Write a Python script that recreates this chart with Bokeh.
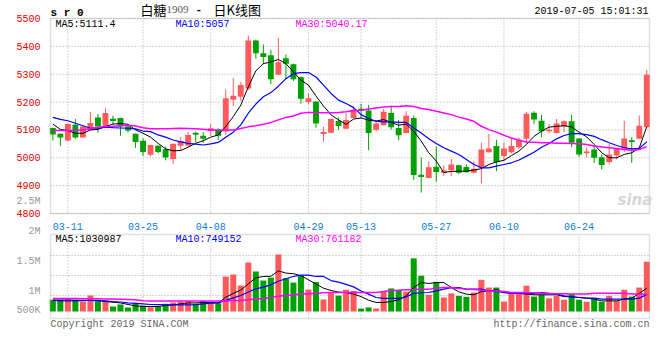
from bokeh.plotting import figure
from bokeh.models import Range1d, FixedTicker, Label, LinearAxis, BoxAnnotation
from bokeh.embed import file_html
from bokeh.resources import INLINE

# ---------------- data ----------------
tick_idx = [2, 12, 21, 34, 41, 51, 60, 70]
tick_labels = ["03-11", "03-25", "04-08", "04-29", "05-13", "05-27", "06-10", "06-24"]
price_ticks = [4800, 4900, 5000, 5100, 5200, 5300, 5400, 5500]
vol_axis_labels = ["2.5M", "2M", "1.5M", "1M", "500K"]

open_ = [5107, 5086, 5062, 5119, 5073, 5100, 5145, 5112, 5140, 5143,
         5112, 5086, 5061, 5011, 5043, 5031, 4996, 5043, 5043, 5090,
         5079, 5096, 5100, 5094, 5208, 5219, 5249, 5421, 5375, 5368,
         5298, 5357, 5336, 5289, 5200, 5202, 5085, 5090, 5132, 5104,
         5143, 5176, 5170, 5101, 5117, 5161, 5107, 5089, 5143, 4939,
         4927, 4968, 4946, 4955, 4973, 4967, 4946, 4964, 5020, 5042,
         5006, 5020, 5038, 5068, 5162, 5133, 5095, 5089, 5113, 5131,
         5069, 5016, 5030, 5002, 4985, 5008, 5032, 5063, 5068, 5110]
close_ = [5084, 5073, 5121, 5073, 5112, 5125, 5112, 5161, 5132, 5112,
          5098, 5057, 5021, 5046, 5021, 5001, 5050, 5060, 5082, 5083,
          5068, 5106, 5079, 5214, 5223, 5261, 5421, 5375, 5362, 5282,
          5343, 5338, 5282, 5212, 5214, 5123, 5093, 5139, 5114, 5136,
          5173, 5169, 5089, 5123, 5165, 5110, 5081, 5151, 4938, 4931,
          4966, 4949, 4954, 4976, 4946, 4948, 4961, 5030, 5033, 4985,
          5033, 5042, 5065, 5158, 5137, 5095, 5101, 5123, 5131, 5054,
          5012, 5023, 5000, 4974, 5012, 5033, 5069, 5057, 5115, 5298]
high_ = [5108, 5087, 5123, 5139, 5114, 5165, 5157, 5178, 5151, 5144,
         5121, 5087, 5070, 5047, 5045, 5040, 5051, 5075, 5093, 5094,
         5092, 5120, 5106, 5245, 5286, 5273, 5439, 5424, 5407, 5388,
         5430, 5371, 5338, 5292, 5232, 5203, 5111, 5140, 5145, 5160,
         5184, 5194, 5190, 5135, 5175, 5187, 5135, 5167, 5152, 5001,
         4987, 5039, 4973, 4996, 4975, 4976, 4988, 5054, 5086, 5065,
         5054, 5071, 5073, 5165, 5167, 5154, 5121, 5139, 5135, 5154,
         5070, 5037, 5046, 5011, 5050, 5034, 5133, 5074, 5152, 5315]
low_ = [5062, 5043, 5058, 5068, 5072, 5098, 5090, 5110, 5120, 5079,
        5090, 5036, 5007, 5005, 5017, 4991, 4979, 5026, 5041, 5055,
        5054, 5079, 5064, 5082, 5186, 5204, 5243, 5356, 5336, 5264,
        5297, 5284, 5276, 5194, 5193, 5108, 5058, 5088, 5100, 5103,
        5142, 5143, 5027, 5095, 5116, 5101, 5063, 5088, 4920, 4875,
        4926, 4914, 4935, 4935, 4941, 4947, 4944, 4908, 5019, 4952,
        4988, 5016, 5030, 5051, 5120, 5074, 5087, 5088, 5092, 5038,
        5004, 5001, 4982, 4958, 4976, 4994, 5021, 4982, 5067, 5109]

ma5 = [5121, 5102, 5098, 5088, 5088, 5100, 5102, 5112, 5121, 5123,
       5120, 5100, 5088, 5074, 5052, 5032, 5025, 5026, 5038, 5052,
       5061, 5074, 5082, 5112, 5148, 5189, 5255, 5312, 5338, 5344,
       5353, 5338, 5308, 5279, 5261, 5222, 5186, 5154, 5136, 5120,
       5139, 5143, 5135, 5132, 5137, 5127, 5117, 5121, 5095, 5060,
       5018, 4988, 4947, 4951, 4952, 4952, 4956, 4961, 4976, 4985,
       4991, 5008, 5024, 5048, 5077, 5095, 5110, 5113, 5115, 5111,
       5092, 5075, 5048, 5018, 5000, 5000, 5012, 5018, 5036, 5111.4]
ma10 = [5145, 5138, 5133, 5124, 5115, 5106, 5106, 5110, 5108, 5107,
        5106, 5104, 5096, 5094, 5082, 5074, 5064, 5057, 5052, 5049,
        5046, 5050, 5055, 5074, 5092, 5118, 5160, 5193, 5219, 5234,
        5257, 5284, 5302, 5306, 5306, 5290, 5261, 5231, 5207, 5195,
        5180, 5155, 5141, 5131, 5129, 5129, 5127, 5127, 5107, 5089,
        5068, 5051, 5036, 5024, 5012, 4994, 4976, 4964, 4964, 4970,
        4976, 4982, 4992, 5006, 5020, 5038, 5051, 5068, 5080, 5087,
        5087, 5083, 5077, 5065, 5054, 5044, 5036, 5032, 5034, 5057]
ma30 = [5098, 5098, 5098, 5099, 5100, 5105, 5110, 5112, 5113, 5115,
        5117, 5114, 5108, 5104, 5104, 5104, 5105, 5106, 5105, 5104,
        5102, 5100, 5100, 5100, 5100, 5105, 5111, 5115, 5120, 5127,
        5136, 5145, 5150, 5160, 5163, 5163, 5162, 5162, 5163, 5165,
        5170, 5171, 5175, 5179, 5182, 5184, 5184, 5187, 5184, 5177,
        5173, 5167, 5161, 5155, 5146, 5139, 5131, 5113, 5101, 5092,
        5081, 5071, 5063, 5057, 5056, 5054, 5054, 5052, 5052, 5051,
        5050, 5048, 5042, 5039, 5036, 5033, 5030, 5027, 5030, 5040.17]

volume = [520000, 520000, 600000, 520000, 440000, 710000, 520000, 460000, 220000, 310000,
          180000, 370000, 270000, 190000, 220000, 340000, 400000, 440000, 460000, 340000,
          470000, 400000, 370000, 1550000, 1640000, 1150000, 2170000, 1770000, 1370000, 1500000,
          2520000, 1470000, 1280000, 1580000, 970000, 1300000, 530000, 810000, 700000, 960000,
          910000, 130000, 180000, 130000, 910000, 1020000, 960000, 880000, 2350000, 1580000,
          740000, 1310000, 620000, 800000, 690000, 650000, 840000, 1400000, 1060000, 1060000,
          440000, 770000, 840000, 1140000, 660000, 740000, 580000, 690000, 520000, 770000,
          520000, 430000, 590000, 430000, 690000, 470000, 960000, 660000, 1060000, 2200000]
vol_ma5 = [490000, 470000, 470000, 470000, 480000, 490000, 490000, 440000, 410000, 380000,
           310000, 250000, 220000, 220000, 220000, 270000, 290000, 340000, 380000, 380000,
           400000, 400000, 380000, 630000, 800000, 950000, 1220000, 1490000, 1550000, 1560000,
           1800000, 1700000, 1670000, 1590000, 1400000, 1220000, 1030000, 930000, 860000, 840000,
           770000, 660000, 500000, 400000, 400000, 440000, 520000, 690000, 1060000, 1280000,
           1240000, 1280000, 1280000, 1060000, 870000, 770000, 740000, 880000, 910000, 960000,
           840000, 800000, 800000, 770000, 740000, 740000, 740000, 740000, 660000, 650000,
           620000, 590000, 550000, 470000, 470000, 470000, 550000, 590000, 800000, 1030987]
vol_ma10 = [500000, 500000, 500000, 490000, 490000, 490000, 480000, 470000, 440000, 420000,
            380000, 360000, 340000, 310000, 300000, 290000, 290000, 290000, 290000, 300000,
            340000, 370000, 380000, 490000, 600000, 710000, 860000, 1000000, 1080000, 1180000,
            1340000, 1450000, 1550000, 1610000, 1610000, 1550000, 1550000, 1370000, 1300000, 1200000,
            1090000, 910000, 770000, 620000, 580000, 580000, 580000, 650000, 800000, 830000,
            840000, 910000, 990000, 1060000, 1060000, 990000, 990000, 990000, 910000, 880000,
            840000, 800000, 800000, 800000, 800000, 840000, 800000, 770000, 690000, 650000,
            620000, 590000, 590000, 550000, 550000, 550000, 550000, 550000, 590000, 749152]
vol_ma30 = [580000, 580000, 570000, 570000, 560000, 560000, 560000, 550000, 550000, 540000,
            530000, 520000, 480000, 470000, 460000, 460000, 460000, 460000, 460000, 460000,
            460000, 460000, 460000, 460000, 490000, 490000, 520000, 550000, 580000, 620000,
            680000, 710000, 740000, 770000, 790000, 810000, 830000, 840000, 840000, 840000,
            840000, 840000, 840000, 840000, 880000, 930000, 940000, 960000, 970000, 990000,
            990000, 1030000, 1060000, 1060000, 1020000, 990000, 970000, 940000, 910000, 910000,
            880000, 840000, 840000, 840000, 830000, 810000, 800000, 790000, 780000, 770000,
            770000, 770000, 810000, 810000, 810000, 810000, 810000, 770000, 770000, 761182]

# ---------------- geometry / style ----------------
RED = "#ff5a5a"
GREEN = "#00a000"
GRID = "#aaaaaa"
BORDER = "#999999"
MONO = "Liberation Mono"

W, H = 660, 335                 # canvas (the frame fills it)
PL, PR = 50, 649                # panel left / right (px)
P_TOP, P_BOT = 18, 213          # price panel (px)
V_TOP, V_BOT = 234, 318         # volume panel (px)
XMIN, XMAX = -0.31, 79.36       # index range of the panels
P_MIN, P_MAX = 4800, 5500
V_ZERO_PX = 311                 # y pixel of zero volume
V_PX_PER_UNIT = 22.6 / 1e6


def x_at(px):
    return XMIN + (px - PL) * (XMAX - XMIN) / (PR - PL)


def p_at(py):
    return P_MAX - (py - P_TOP) * (P_MAX - P_MIN) / (P_BOT - P_TOP)


def v_at(py):
    return (V_ZERO_PX - py) / V_PX_PER_UNIT


def add_text(fig, px, py, text, color, size=10, font=MONO, style="normal", align="left"):
    fig.add_layout(Label(x=x_at(px), y=p_at(py), text=text, text_color=color,
                         text_font_size=f"{size}px", text_font=font,
                         text_font_style=style, text_align=align,
                         text_baseline="middle"))


n = len(close_)
idx = list(range(n))
colors = [RED if c >= o else GREEN for o, c in zip(open_, close_)]
body_top = [max(o, c) for o, c in zip(open_, close_)]
body_bot = [min(o, c) for o, c in zip(open_, close_)]

p = figure(width=W, height=H, x_range=Range1d(x_at(0), x_at(W)),
           y_range=Range1d(p_at(H), p_at(0)),
           x_axis_type=None, y_axis_type=None,
           output_backend="svg", toolbar_location=None, min_border=0)
p.extra_y_ranges = {"vol": Range1d(v_at(H), v_at(0))}
p.background_fill_color = "white"
p.border_fill_color = "white"
p.outline_line_color = None

# ---- grid lines (dotted) ----
gkw = dict(line_color=GRID, line_dash="1 2", line_width=1, level="underlay")
p.segment(x0=XMIN, y0=price_ticks, x1=XMAX, y1=price_ticks, **gkw)
p.segment(x0=tick_idx, y0=P_MIN, x1=tick_idx, y1=P_MAX, **gkw)
vol_grid = [v_at(255), v_at(275), v_at(295)]
p.segment(x0=XMIN, y0=vol_grid, x1=XMAX, y1=vol_grid, y_range_name="vol", **gkw)
p.segment(x0=tick_idx, y0=v_at(V_BOT), x1=tick_idx, y1=v_at(V_TOP), y_range_name="vol", **gkw)

# ---- candles ----
p.segment(x0=idx, y0=low_, x1=idx, y1=high_, line_color=colors, line_width=1)
p.vbar(x=idx, width=0.78, top=body_top, bottom=body_bot, fill_color=colors, line_color=None)
p.line(idx, ma5, line_color="black", line_width=1)
p.line(idx, ma10, line_color="#0000ff", line_width=1.2)
p.line(idx, ma30, line_color="#ff00ff", line_width=1.5)

# ---- volume ----
p.vbar(x=idx, width=0.8, top=volume, bottom=0, fill_color=colors, line_color=None, y_range_name="vol")
p.line(idx, vol_ma5, line_color="black", line_width=1, y_range_name="vol")
p.line(idx, vol_ma10, line_color="#0000ff", line_width=1.2, y_range_name="vol")
p.line(idx, vol_ma30, line_color="#ff00ff", line_width=1.5, y_range_name="vol")

# ---- panel borders ----
p.add_layout(BoxAnnotation(left=XMIN, right=XMAX, bottom=P_MIN, top=P_MAX,
                           fill_color=None, line_color=BORDER, line_width=1.5))
p.add_layout(BoxAnnotation(left=XMIN, right=XMAX, bottom=v_at(V_BOT), top=v_at(V_TOP),
                           fill_color=None, line_color=BORDER, line_width=1.5,
                           y_range_name="vol"))


def style_axis(ax, color):
    ax.axis_line_color = None
    ax.major_tick_line_color = None
    ax.minor_tick_line_color = None
    ax.major_label_text_font = MONO
    ax.major_label_text_font_size = "10px"
    ax.major_label_text_color = color


# ---- axes ----
yax = LinearAxis(fixed_location=XMIN, bounds=(P_MIN, P_MAX),
                 ticker=FixedTicker(ticks=price_ticks))
style_axis(yax, "#e00000")
yax.major_label_standoff = 4
p.add_layout(yax, "left")

vol_label_ticks = [int(round(v_at(py))) for py in (201, 231, 261, 291, 310)]
vax = LinearAxis(y_range_name="vol", fixed_location=XMIN,
                 bounds=(v_at(320), v_at(195)),
                 ticker=FixedTicker(ticks=vol_label_ticks),
                 major_label_overrides=dict(zip(vol_label_ticks, vol_axis_labels)))
style_axis(vax, "#999999")
vax.major_label_standoff = 4
p.add_layout(vax, "left")

xax = LinearAxis(fixed_location=P_MIN, bounds=(XMIN, XMAX),
                 ticker=FixedTicker(ticks=tick_idx),
                 major_label_overrides=dict(zip(tick_idx, tick_labels)))
style_axis(xax, "#0a80d8")
xax.major_label_standoff = 3
p.add_layout(xax, "below")

# ---- texts ----
add_text(p, 50, 12, "s r 0", "black", size=11, style="bold")
add_text(p, 140, 9, "白糖", "black", size=13, font="Noto Sans CJK SC")
add_text(p, 166, 9, "1909", "#555555", size=11, font="Liberation Serif")
add_text(p, 195, 9, "-", "black", size=11, style="bold")
add_text(p, 213, 9, "日K线图", "black", size=13, font="Noto Sans CJK SC")
add_text(p, 648, 11, "2019-07-05 15:01:31", "black", align="right")

add_text(p, 55, 24, f"MA5:{ma5[-1]}", "black")
add_text(p, 175, 24, f"MA10:{ma10[-1]}", "#0000ff")
add_text(p, 295, 24, f"MA30:{ma30[-1]}", "#ff00ff")

add_text(p, 55, 238.5, f"MA5:{vol_ma5[-1]}", "black")
add_text(p, 175, 238.5, f"MA10:{vol_ma10[-1]}", "#0000ff")
add_text(p, 295, 238.5, f"MA30:{vol_ma30[-1]}", "#ff00ff")

add_text(p, 617, 199, "sina", "#d6d6d6", size=15, font="DejaVu Sans", style="bold italic")

add_text(p, 50, 324, "Copyright 2019 SINA.COM", "#666666")
add_text(p, 649, 324, "http://finance.sina.com.cn", "#666666", align="right")

open("out.html", "w").write(file_html(p, INLINE))
